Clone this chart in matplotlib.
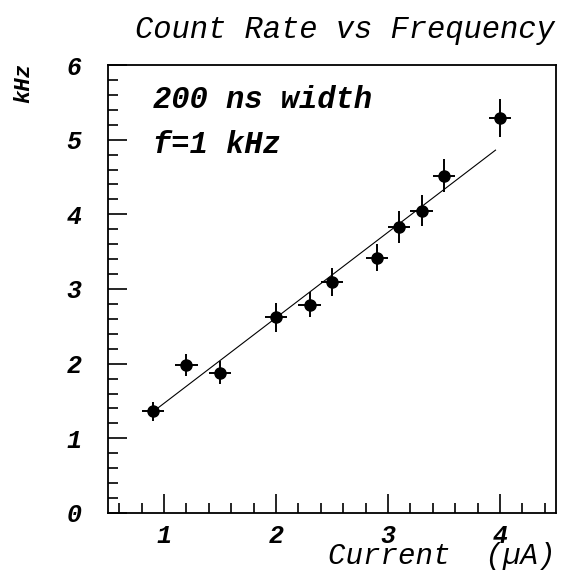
import matplotlib
matplotlib.use("Agg")
from matplotlib import pyplot as plt
from matplotlib.ticker import MultipleLocator

# measured points: current (uA) vs count rate (kHz)
current = [0.9, 1.2, 1.5, 2.0, 2.3, 2.5, 2.9, 3.1, 3.3, 3.5, 4.0]
rate = [1.36, 1.98, 1.88, 2.62, 2.79, 3.09, 3.42, 3.83, 4.05, 4.52, 5.29]
current_err = [0.1, 0.1, 0.1, 0.1, 0.1, 0.1, 0.1, 0.1, 0.1, 0.1, 0.1]
rate_err = [0.13, 0.15, 0.15, 0.19, 0.17, 0.19, 0.18, 0.21, 0.21, 0.22, 0.25]

# straight-line fit drawn over the points
fit_x = [0.94, 3.96]
fit_y = [1.40, 4.86]

FONT = "Liberation Mono"


def main():
    fig = plt.figure(figsize=(5.66, 5.76), dpi=100)
    ax = fig.add_axes([108 / 566, 63 / 576, 448 / 566, 448 / 576])

    ax.errorbar(current, rate, xerr=current_err, yerr=rate_err,
                fmt="o", color="black", markersize=8, elinewidth=1.4,
                capsize=0)
    ax.plot(fit_x, fit_y, color="black", linewidth=0.8)

    ax.set_xlim(0.5, 4.5)
    ax.set_ylim(0, 6)
    ax.xaxis.set_major_locator(MultipleLocator(1))
    ax.xaxis.set_minor_locator(MultipleLocator(0.2))
    ax.yaxis.set_major_locator(MultipleLocator(1))
    ax.yaxis.set_minor_locator(MultipleLocator(0.2))
    ax.tick_params(which="both", direction="in", top=False, right=False,
                   width=1.2)
    ax.tick_params(which="major", length=14)
    ax.tick_params(which="minor", length=7)
    ax.tick_params(axis="y", which="major", pad=19)
    ax.tick_params(axis="x", which="major", pad=8)
    for spine in ax.spines.values():
        spine.set_linewidth(1.3)

    for lab in ax.get_xticklabels() + ax.get_yticklabels():
        lab.set_fontfamily(FONT)
        lab.set_fontsize(18)
        lab.set_fontweight("bold")
        lab.set_fontstyle("italic")

    ax.text(0.1, 0.922, "200 ns width", transform=ax.transAxes,
            fontfamily=FONT, fontsize=22, fontweight="bold",
            fontstyle="italic", va="center")
    ax.text(0.1, 0.821, "f=1 kHz", transform=ax.transAxes,
            fontfamily=FONT, fontsize=22, fontweight="bold",
            fontstyle="italic", va="center")

    fig.text(555 / 566, 1 - 30 / 576, "Count Rate vs Frequency",
             fontfamily=FONT, fontsize=22, fontstyle="italic",
             ha="right", va="center")
    fig.text(24 / 566, 1 - 83 / 576, "kHz", rotation=90,
             fontfamily=FONT, fontsize=16, fontweight="bold",
             fontstyle="italic", ha="center", va="center")
    fig.text(555 / 566, 1 - 564 / 576, "Current  (\u00b5A)",
             fontfamily=FONT, fontsize=21, fontstyle="italic",
             ha="right", va="baseline")

    fig.savefig("out.png", dpi=100)


if __name__ == "__main__":
    main()
